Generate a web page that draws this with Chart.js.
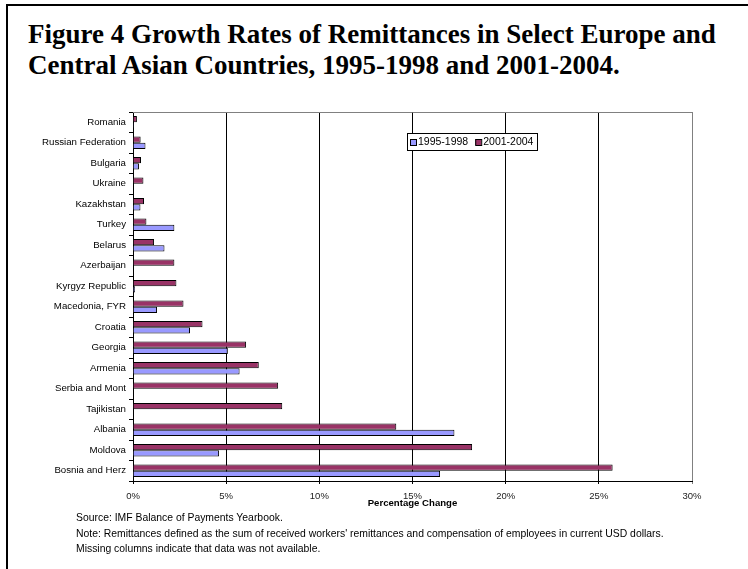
<!DOCTYPE html>
<html lang="en">
<head>
  <meta charset="UTF-8" />
  <title>Figure 4 Growth Rates of Remittances</title>
  <script src="https://cdn.jsdelivr.net/npm/chart.js"></script>
  <style>
    html, body { margin: 0; padding: 0; background: #fff; }
    body { width: 748px; height: 569px; position: relative; overflow: hidden; }
    .marco { position: absolute; left: 6px; top: 4px; width: 800px; height: 600px;
             border-top: 2px solid #000; border-left: 2px solid #000; }
    .titulo { position: absolute; left: 28px; top: 19px; margin: 0; white-space: nowrap;
              font: bold 27px "Liberation Serif", "Times New Roman", serif; line-height: 31px; color: #000; }
    .notas { position: absolute; left: 76px; top: 510px; margin: 0; white-space: nowrap;
             font: 10.4px "Liberation Sans", Arial, sans-serif; line-height: 15.5px; color: #000; }
    .caja { position: absolute; left: 0; top: 0; width: 748px; height: 569px; }
  </style>
</head>
<body>
  <div class="marco"></div>
  <h1 class="titulo">Figure 4 Growth Rates of Remittances in Select Europe and<br>Central Asian Countries, 1995-1998 and 2001-2004.</h1>
  <div class="caja"><canvas id="graficoRemesas"></canvas></div>
  <p class="notas">Source: IMF Balance of Payments Yearbook.<br>
    Note: Remittances defined as the sum of received workers' remittances and compensation of employees in current USD dollars.<br>
    Missing columns indicate that data was not available.</p>

  <script>
    const paises = ["Romania", "Russian Federation", "Bulgaria", "Ukraine", "Kazakhstan", "Turkey",
      "Belarus", "Azerbaijan", "Kyrgyz Republic", "Macedonia, FYR", "Croatia", "Georgia",
      "Armenia", "Serbia and Mont", "Tajikistan", "Albania", "Moldova", "Bosnia and Herz"];
    const crecimiento9598 = [0.05, 0.67, 0.32, null, 0.40, 2.22, 1.69, null, 0.11, 1.29, 3.06, 5.09,
      5.72, null, null, 17.25, 4.62, 16.48];
    const crecimiento0104 = [0.21, 0.41, 0.43, 0.56, 0.59, 0.72, 1.13, 2.22, 2.33, 2.71, 3.73, 6.07,
      6.75, 7.79, 8.01, 14.13, 18.20, 25.74];
    const ticksX = [0, 5, 10, 15, 20, 25, 30];

    Chart.defaults.font.family = '"Liberation Sans", Arial, sans-serif';
    Chart.defaults.color = "#000";

    // leyenda dibujada dentro del área, como en el original
    const leyendaCaja = {
      id: "leyendaCaja",
      afterDraw(chart) {
        const { ctx, chartArea } = chart;
        const x = chartArea.left + 274, y = chartArea.top + 21;
        ctx.save();
        ctx.fillStyle = "#fff";
        ctx.fillRect(x, y, 130, 17);
        ctx.strokeStyle = "#000";
        ctx.lineWidth = 1;
        ctx.strokeRect(x + 0.5, y + 0.5, 130, 17);
        ctx.font = '10.5px "Liberation Sans", Arial, sans-serif';
        ctx.textBaseline = "middle";
        const items = [chart.data.datasets[1], chart.data.datasets[0]];
        let cx = x + 3;
        items.forEach(ds => {
          ctx.fillStyle = ds.backgroundColor;
          ctx.fillRect(cx, y + 6, 6, 6);
          ctx.strokeStyle = "#000";
          ctx.strokeRect(cx + 0.5, y + 6.5, 6, 6);
          ctx.fillStyle = "#000";
          ctx.fillText(ds.label, cx + 8, y + 9.5);
          cx += 8 + ctx.measureText(ds.label).width + 7;
        });
        // borde superior gris
        ctx.strokeStyle = "#808080";
        ctx.beginPath();
        ctx.moveTo(chartArea.left, chartArea.top + 0.5);
        ctx.lineTo(chartArea.right, chartArea.top + 0.5);
        ctx.stroke();
        ctx.restore();
      }
    };

    new Chart(document.getElementById("graficoRemesas").getContext("2d"), {
      type: "bar",
      data: {
        labels: paises,
        datasets: [
          { label: "2001-2004", data: crecimiento0104, backgroundColor: "#993366",
            borderColor: "#000", borderWidth: 1, categoryPercentage: 0.6, barPercentage: 1 },
          { label: "1995-1998", data: crecimiento9598, backgroundColor: "#9999FF",
            borderColor: "#000", borderWidth: 1, categoryPercentage: 0.6, barPercentage: 1 }
        ]
      },
      options: {
        indexAxis: "y",
        responsive: true,
        maintainAspectRatio: false,
        animation: false,
        layout: { padding: { top: 112, right: 56, bottom: 0, left: 0 } },
        plugins: {
          legend: { display: false },
          tooltip: { enabled: false }
        },
        scales: {
          x: {
            min: 0,
            max: 30,
            afterBuildTicks: scale => { scale.ticks = ticksX.map(v => ({ value: v })); },
            afterFit: scale => { scale.height = 88; },
            border: { color: "#000" },
            grid: {
              color: c => (c.tick && c.tick.value === 30 ? "#808080" : "#000"),
              tickLength: 3
            },
            ticks: {
              padding: 7,
              color: "#222",
              font: { size: 9.5 },
              callback: v => v + "%"
            },
            title: {
              display: true,
              text: "Percentage Change",
              font: { size: 9.6, weight: "bold" },
              padding: { top: 0, bottom: 60 }
            }
          },
          y: {
            afterFit: scale => { scale.width = 133; },
            border: { color: "#000" },
            grid: { drawOnChartArea: false, color: "#000", tickLength: 4 },
            ticks: { padding: 3, font: { size: 9.7 }, autoSkip: false }
          }
        }
      },
      plugins: [leyendaCaja]
    });
  </script>
</body>
</html>
